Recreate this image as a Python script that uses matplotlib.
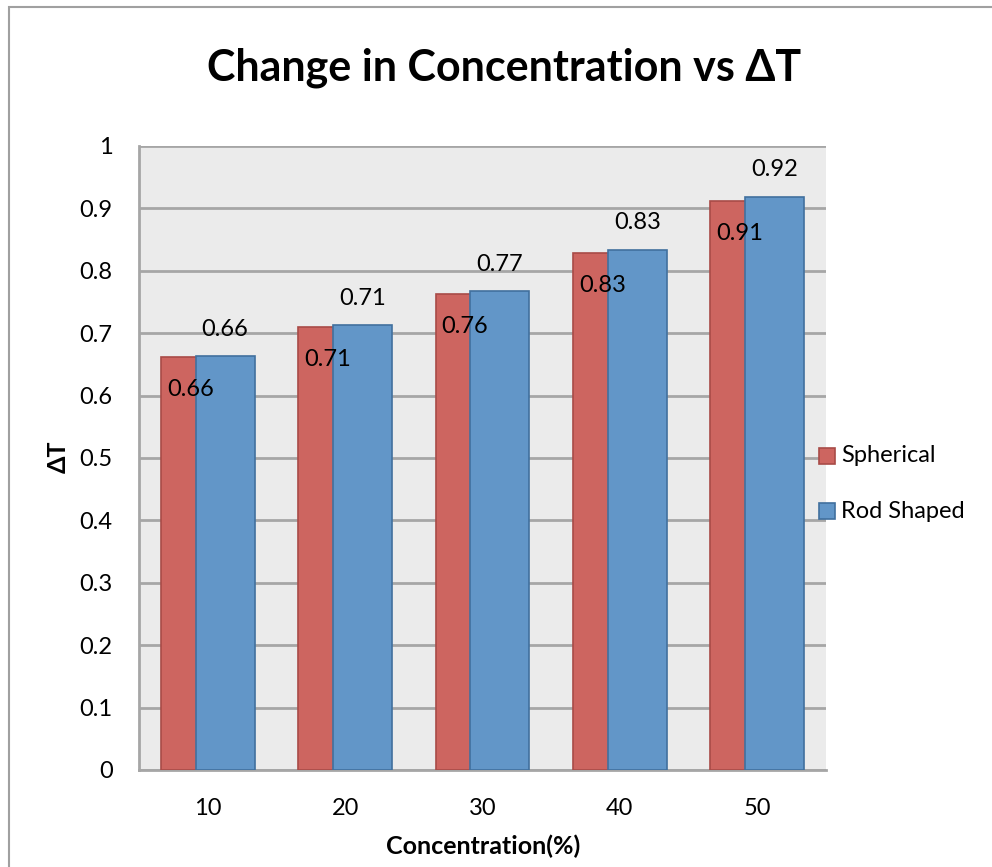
import numpy as np
import matplotlib
matplotlib.use("Agg")
import matplotlib.pyplot as plt
from matplotlib.patches import Rectangle

# data
concentrations = ["10", "20", "30", "40", "50"]
spherical = [0.662, 0.710, 0.763, 0.829, 0.912]
rod_shaped = [0.663, 0.713, 0.767, 0.834, 0.919]
spherical_labels = ["0.66", "0.71", "0.76", "0.83", "0.91"]
rod_labels = ["0.66", "0.71", "0.77", "0.83", "0.92"]

plt.rcParams['font.family'] = ['Lato', 'DejaVu Sans']

red_fill, red_edge = "#CD6560", "#A84B47"
blue_fill, blue_edge = "#6296C8", "#41709E"

fig = plt.figure(figsize=(9.92, 8.67), dpi=100)
fig.patch.set_facecolor("white")

# outer chart border (right and bottom edges fall outside the picture)
fig.patches.append(Rectangle((9 / 992, -0.05), 1.0, 1.05 - 7 / 867,
                             transform=fig.transFigure, fill=False,
                             edgecolor="#A0A0A0", linewidth=1.5))

ax = fig.add_axes([139 / 992, 97 / 867, 687 / 992, 624 / 867])
ax.set_facecolor("#EBEBEB")

x = np.arange(len(concentrations))
w = 0.43
off = 0.127

ax.bar(x - off, spherical, w, color=red_fill, edgecolor=red_edge, linewidth=1.2, zorder=3)
ax.bar(x + off, rod_shaped, w, color=blue_fill, edgecolor=blue_edge, linewidth=1.2, zorder=4)

for i in range(len(x)):
    ax.annotate(rod_labels[i], (x[i] + off, rod_shaped[i]), xytext=(0, 27),
                textcoords="offset pixels", ha="center", va="center",
                fontsize=17, zorder=6)
    ax.annotate(spherical_labels[i], (x[i] - off, spherical[i]), xytext=(0, -33),
                textcoords="offset pixels", ha="center", va="center",
                fontsize=17, zorder=6)

ax.set_xlim(-0.5, len(x) - 0.5)
ax.set_ylim(0, 1)
ax.set_yticks(np.arange(0, 1.01, 0.1))
ax.set_yticklabels(["0", "0.1", "0.2", "0.3", "0.4", "0.5", "0.6", "0.7", "0.8", "0.9", "1"])
ax.set_xticks(x)
ax.set_xticklabels(concentrations)
ax.tick_params(axis="both", length=0, labelsize=17)
ax.tick_params(axis="y", pad=19)
ax.tick_params(axis="x", pad=20)
ax.yaxis.grid(True, color="#A6A6A6", linewidth=2, zorder=1)
ax.set_axisbelow(True)
for s in ["top", "right"]:
    ax.spines[s].set_visible(False)
for s in ["left", "bottom"]:
    ax.spines[s].set_color("#A6A6A6")
    ax.spines[s].set_linewidth(2)

fig.text(504 / 992, 1 - 80 / 867, "Change in Concentration vs ΔT", ha="center", va="baseline",
         fontsize=31, fontweight="bold")
fig.text(483 / 992, 1 - 854 / 867, "Concentration(%)", ha="center", va="baseline",
         fontsize=18, fontweight="bold")
fig.text(58 / 992, 1 - 457 / 867, "ΔT", ha="center", va="center", rotation=90,
         fontsize=18, fontweight="bold")

# legend
for yc, col, ec, lab in [(456, red_fill, red_edge, "Spherical"), (511, blue_fill, blue_edge, "Rod Shaped")]:
    fig.patches.append(Rectangle((819 / 992, 1 - (yc + 8) / 867), 16 / 992, 16 / 867,
                                 transform=fig.transFigure, facecolor=col, edgecolor=ec,
                                 linewidth=1.2, zorder=5))
    fig.text(841 / 992, 1 - yc / 867, lab, ha="left", va="center", fontsize=17)

fig.savefig("out.png", dpi=100)
